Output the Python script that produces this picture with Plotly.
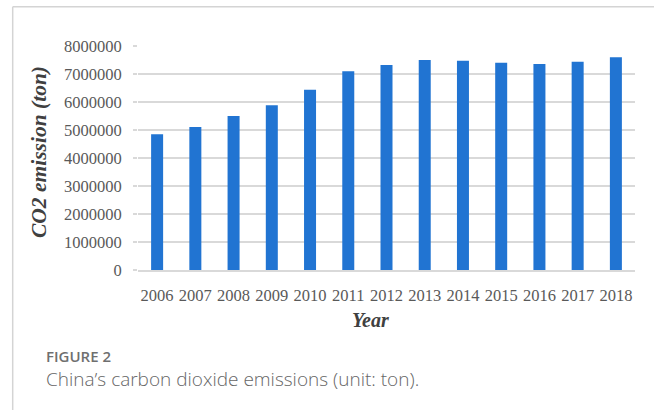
import plotly.graph_objects as go

# China's annual CO2 emissions, tons
years = ["2006", "2007", "2008", "2009", "2010", "2011", "2012",
         "2013", "2014", "2015", "2016", "2017", "2018"]
emissions = [4850000, 5110000, 5500000, 5880000, 6440000, 7100000, 7320000,
             7500000, 7470000, 7400000, 7360000, 7440000, 7600000]
y_ticks = [0, 1000000, 2000000, 3000000, 4000000, 5000000, 6000000, 7000000, 8000000]

W, H = 654, 410
L, R, T, B = 138, 19, 46, 140
pw, ph = W - L - R, H - T - B


def px_x(x):
    return (x - L) / pw


def px_y(y):
    return (H - B - y) / ph


fig = go.Figure(go.Bar(
    x=years, y=emissions,
    marker=dict(color="#2174D2", line=dict(width=0)),
))

grid = "#d9d9d9"
serif = "Liberation Serif"

fig.update_layout(
    width=W, height=H,
    margin=dict(l=L, r=R, t=T, b=B),
    paper_bgcolor="white", plot_bgcolor="white",
    bargap=0.686,
    showlegend=False,
    xaxis=dict(
        type="category", showgrid=False, showline=True, linecolor=grid,
        linewidth=1.5, ticks="", tickfont=dict(family=serif, size=16.5, color="#595959"),
        ticklabelstandoff=9,
    ),
    yaxis=dict(
        range=[0, 8000000], tickvals=y_ticks, tickformat="d",
        showgrid=True, gridcolor=grid, gridwidth=1.5, zeroline=False,
        showline=False, ticks="outside", ticklen=4, tickcolor=grid, tickwidth=1.5,
        tickfont=dict(family=serif, size=16.5, color="#595959"),
        ticklabelstandoff=8,
    ),
    font=dict(family=serif),
)

# Light frame around the figure panel
frame = dict(color="#d4d4d4", width=1.5)
fig.add_shape(type="line", xref="paper", yref="paper",
              x0=px_x(12.7), x1=px_x(W + 5), y0=px_y(6.7), y1=px_y(6.7), line=frame)
fig.add_shape(type="line", xref="paper", yref="paper",
              x0=px_x(12.7), x1=px_x(12.7), y0=px_y(6.7), y1=px_y(H + 5), line=frame)

# Axis titles
fig.add_annotation(text="<b><i>CO2 emission (ton)</i></b>", xref="paper", yref="paper",
                   x=px_x(39), y=px_y(152), textangle=-90, showarrow=False,
                   xanchor="center", yanchor="middle",
                   font=dict(family=serif, size=21.5, color="#404040"))
fig.add_annotation(text="<b><i>Year</i></b>", xref="paper", yref="paper",
                   x=px_x(370), y=px_y(320), showarrow=False,
                   xanchor="center", yanchor="middle",
                   font=dict(family=serif, size=20, color="#404040"))

# Caption
fig.add_annotation(text="FIGURE 2", xref="paper", yref="paper",
                   x=px_x(44), y=px_y(356), showarrow=False,
                   xanchor="left", yanchor="middle",
                   font=dict(family="Open Sans", size=15, color="#6f6f6f", weight=600))
fig.add_annotation(text="China\u2019s carbon dioxide emissions (unit: ton).",
                   xref="paper", yref="paper",
                   x=px_x(44), y=px_y(379), showarrow=False,
                   xanchor="left", yanchor="middle",
                   font=dict(family="Open Sans", size=19, color="#666666", weight=300))

fig.write_html("out.html")
